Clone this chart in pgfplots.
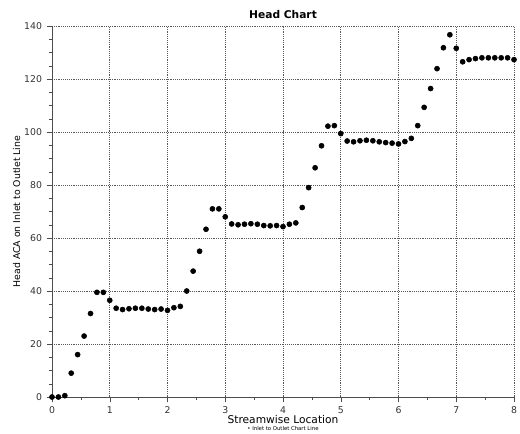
\documentclass[border=0pt]{standalone}
\usepackage{pgfplots}
\pgfplotsset{compat=1.18}
\usepackage{fontspec}
\setmainfont{DejaVu Sans}
\begin{document}
\begin{tikzpicture}
\useasboundingbox (-39pt,-27pt) rectangle (351pt,297.75pt);
\begin{axis}[
  at={(0,0)}, anchor=south west,
  scale only axis, width=346.5pt, height=278.25pt,
  xmin=0, xmax=8, ymin=0, ymax=140,
  axis lines*=left,
  axis line style={black!70, line width=0.6pt},
  xtick={0,1,...,8}, ytick={0,20,...,140},
  minor xtick={0.5,1.5,...,7.5},
  minor ytick={5,10,...,135},
  tick align=outside,
  major tick length=4pt, minor tick length=2.5pt,
  tick style={black!70},
  grid=major,
  major grid style={densely dotted, black!65, line width=0.5pt},
  /pgf/number format/assume math mode=true,
  ticklabel style={font=\fontsize{7}{8}\selectfont, text=black!80},
  xlabel={Streamwise Location},
  ylabel={Head ACA on Inlet to Outlet Line},
  xlabel style={font=\fontsize{8}{9}\selectfont, yshift=6pt},
  ylabel style={font=\fontsize{7}{8}\selectfont, yshift=-4pt},
  title={\textbf{Head Chart}},
  title style={font=\fontsize{8}{9}\selectfont, yshift=-4pt},
  clip=false,
]
\addplot[only marks, mark=*, mark size=1.9pt, black] coordinates {
(0.000,0) (0.111,0) (0.222,0.5) (0.333,9) (0.444,16) (0.556,23) (0.667,31.5) (0.778,39.5) (0.889,39.5)
(1.000,36.5) (1.111,33.5) (1.222,33) (1.333,33.3) (1.444,33.5) (1.556,33.5) (1.667,33.2) (1.778,33) (1.889,33.2)
(2.000,32.7) (2.111,33.7) (2.222,34.2) (2.333,40) (2.444,47.5) (2.556,55) (2.667,63.3) (2.778,71) (2.889,71)
(3.000,68) (3.111,65.3) (3.222,65) (3.333,65.2) (3.444,65.4) (3.556,65.2) (3.667,64.7) (3.778,64.6) (3.889,64.7)
(4.000,64.3) (4.111,65.2) (4.222,65.7) (4.333,71.5) (4.444,79) (4.556,86.5) (4.667,94.8) (4.778,102.2) (4.889,102.4)
(5.000,99.4) (5.111,96.6) (5.222,96.3) (5.333,96.7) (5.444,96.9) (5.556,96.7) (5.667,96.3) (5.778,96) (5.889,95.8)
(6.000,95.5) (6.111,96.4) (6.222,97.6) (6.333,102.4) (6.444,109.3) (6.556,116.4) (6.667,123.9) (6.778,131.8) (6.889,136.7)
(7.000,131.6) (7.111,126.5) (7.222,127.3) (7.333,127.7) (7.444,128) (7.556,128) (7.667,128) (7.778,128) (7.889,128)
(8.000,127.3)
};
\node[font=\fontsize{4}{4.5}\selectfont, anchor=north, inner sep=0.5pt] at (axis description cs:0.5,0) [yshift=-21.5pt] {\textbullet\ Inlet to Outlet Chart Line};
\end{axis}
\end{tikzpicture}
\end{document}
